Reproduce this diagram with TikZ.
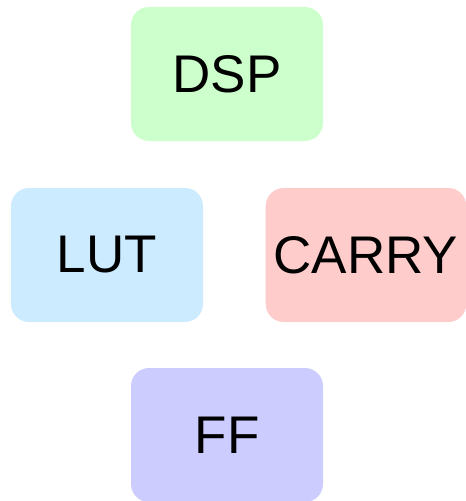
\documentclass[tikz,border=0pt]{standalone}
\usepackage{fontspec}
\setmainfont{Liberation Sans}
\usepackage{tikz}
\usetikzlibrary{positioning}
\definecolor{dspgreen}{HTML}{CCFFCC}
\definecolor{lutblue}{HTML}{CCEBFF}
\definecolor{carryred}{HTML}{FFCCCC}
\definecolor{ffpurple}{HTML}{CCCCFF}
\tikzset {
  x=1pt, y=-1pt,
  % rounded block for each resource
  block/.style = {rounded corners=18pt, minimum width=192pt, minimum height=134pt,
    inner xsep=8pt, font=\fontsize{53}{60}\selectfont},
  dsp/.style={fill=dspgreen},
  lut/.style={fill=lutblue},
  carry/.style={fill=carryred},
  ff/.style={fill=ffpurple},
}
\begin{document}
\begin{tikzpicture}
        \useasboundingbox (0, 0) rectangle (466, 501);

        \node[block, dsp] (dsp) at (227, 74) {DSP};
        \node[block, lut] (lut) at (107, 255) {LUT};
        \node[block, carry] (carry) at (366, 255) {CARRY};
        \node[block, ff] (ff) at (227, 435) {FF};
      \end{tikzpicture}
\end{document}
